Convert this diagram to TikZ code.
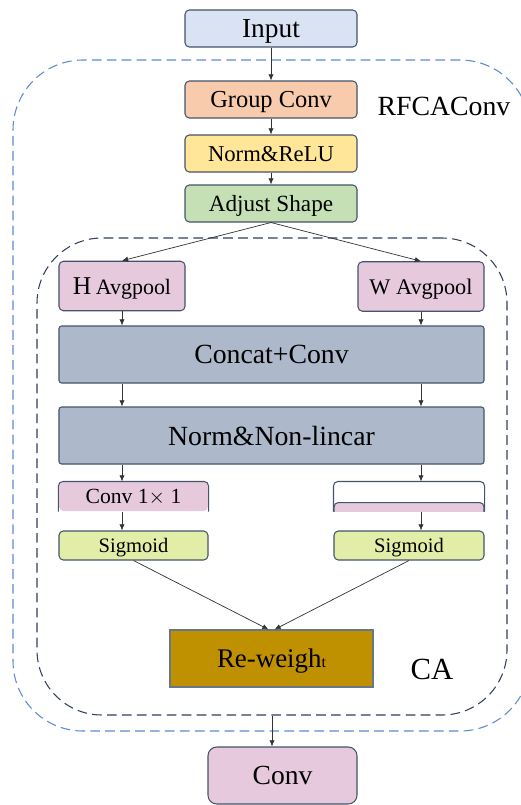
\documentclass[tikz,border=0pt]{standalone}
\usepackage{fontspec}
\setmainfont{Liberation Serif}
\usepackage{tikz}
\usetikzlibrary{arrows.meta,positioning}
\definecolor{edgec}{HTML}{44546A}
\definecolor{inblue}{HTML}{DAE3F3}
\definecolor{gcpeach}{HTML}{F8CBAD}
\definecolor{nryellow}{HTML}{FFE699}
\definecolor{adjgreen}{HTML}{C5E0B4}
\definecolor{poolpink}{HTML}{E6C9DC}
\definecolor{slate}{HTML}{ADB9CA}
\definecolor{siglime}{HTML}{E2EEA8}
\definecolor{rwgold}{HTML}{BF9000}
\definecolor{outerdash}{HTML}{5B8BD0}
\definecolor{innerdash}{HTML}{2F3F5C}
\tikzset{
  >={Latex[length=3.5pt,width=3pt]},
  box/.style={draw=edgec, line width=0.6pt, rounded corners=2.5pt, inner sep=0pt, text depth=0pt, align=center},
  inbox/.style={box, fill=inblue, minimum width=34.4mm, minimum height=7.4mm, font=\fontsize{15.6}{18}\selectfont},
  stepbox/.style={box, fill=#1, minimum width=34.4mm, minimum height=7.4mm},
  pool/.style={box, fill=poolpink, minimum width=25.2mm, minimum height=9.9mm},
  wide/.style={box, fill=slate, rounded corners=1.5pt, minimum width=85mm, minimum height=11.4mm, font=\fontsize{15.8}{18}\selectfont},
  small/.style={box, fill=#1, minimum width=29.8mm, minimum height=5.8mm},
  region/.style={dashed, dash pattern=on 5.5pt off 3pt, line width=0.6pt, rounded corners=13mm, inner sep=0pt},
  link/.style={->, draw=black!80, line width=0.4pt},
}

\begin{document}
\begin{tikzpicture}[x=0.2mm, y=-0.2mm]
  \useasboundingbox (0,0) rectangle (520,805);
  % dashed regions
  \node[region, draw=outerdash, rounded corners=14mm, minimum width=103.4mm, minimum height=134.2mm] (rfca) at (271.5,395.5) {};
  \node[region, draw=innerdash, minimum width=94mm, minimum height=95.4mm] (cab) at (272,476.5) {};
  \node[font=\fontsize{15.8}{18}\selectfont] (rfcalab) at (444,106) {RFCAConv};
  \node[font=\fontsize{17.5}{20}\selectfont] (calab) at (432,669) {CA};

  % main stem
  \node[inbox] (in) at (271,28.5) {Input};
  \node[stepbox=gcpeach, font=\fontsize{13.9}{16}\selectfont] (gc) at (271,99.5) {Group Conv};
  \node[stepbox=nryellow, font=\fontsize{12.9}{15}\selectfont] (nr) at (271,153.5) {Norm\&ReLU};
  \node[stepbox=adjgreen, font=\fontsize{13.2}{15}\selectfont] (adj) at (271,203.5) {Adjust Shape};

  % coordinate attention
  \node[pool] (hp) at (122,286) {{\fontsize{14.6}{17}\selectfont H} {\fontsize{12.5}{15}\selectfont Avgpool}};
  \node[pool, font=\fontsize{12.7}{15}\selectfont] (wp) at (421,286.5) {W Avgpool};
  \node[wide] (cat) at (271.5,354.5) {Concat+Conv};
  \node[wide] (nn) at (271.5,435.5) {Norm\&Non-lincar};
  \node[small=poolpink, draw=none, font=\fontsize{12.3}{14}\selectfont] (c1) at (133.5,496.5) {Conv 1$\times$ 1};
  \draw[edgec, line width=0.6pt, rounded corners=2.5pt] (c1.south west) |- (c1.north) -| (c1.south east);
  \node[small=white, draw=none, minimum width=30mm] (c2) at (409,496.5) {};
  \draw[edgec, line width=0.6pt, rounded corners=2.5pt] (c2.south west) |- (c2.north) -| (c2.south east);
  \begin{scope}
    \clip (330,480) rectangle (490,511);
    \node[small=poolpink, minimum width=30mm, minimum height=7mm, anchor=north, font=\fontsize{12.3}{14}\selectfont] (c2p) at (409,502) {Conv 1$\times$ 1};
  \end{scope}
  \node[small=siglime, font=\fontsize{11.7}{14}\selectfont] (s1) at (133.5,545.5) {Sigmoid};
  \node[small=siglime, minimum width=30mm, font=\fontsize{11.7}{14}\selectfont] (s2) at (409,545.5) {Sigmoid};
  \node[box, draw=edgec!80, fill=rwgold, rounded corners=0pt, minimum width=40.6mm, minimum height=11.4mm] (rw) at (271.5,658.5) {{\fontsize{15.3}{18}\selectfont Re-weigh}{\fontsize{9}{10}\selectfont t}};
  \node[box, fill=poolpink, rounded corners=5pt, minimum width=29.8mm, minimum height=11.4mm, font=\fontsize{15.7}{18}\selectfont] (out) at (282.5,775.5) {Conv};

  % connectors
  \draw[link] (in) -- (gc);
  \draw[link] (gc) -- (nr);
  \draw[link] (nr) -- (adj);
  \draw[link] (adj.south) -- (hp.north);
  \draw[link] (adj.south) -- (wp.north);
  \draw[link] (hp) -- (hp |- cat.north);
  \draw[link] (wp) -- (wp |- cat.north);
  \draw[link] (cat.south -| hp) -- (nn.north -| hp);
  \draw[link] (cat.south -| wp) -- (nn.north -| wp);
  \draw[link] (nn.south -| hp) -- (c1.north -| hp);
  \draw[link] (nn.south -| wp) -- (c2.north -| wp);
  \draw[link] (c1.south -| hp) -- (s1.north -| hp);
  \draw[link] (c2.south -| wp) -- (s2.north -| wp);
  \draw[link] (s1.south) -- ([xshift=-0.6mm]rw.north);
  \draw[link] (s2.south) -- ([xshift=0.6mm]rw.north);
  \draw[link] (cab.south) -- (cab.south |- out.north);
\end{tikzpicture}
\end{document}
